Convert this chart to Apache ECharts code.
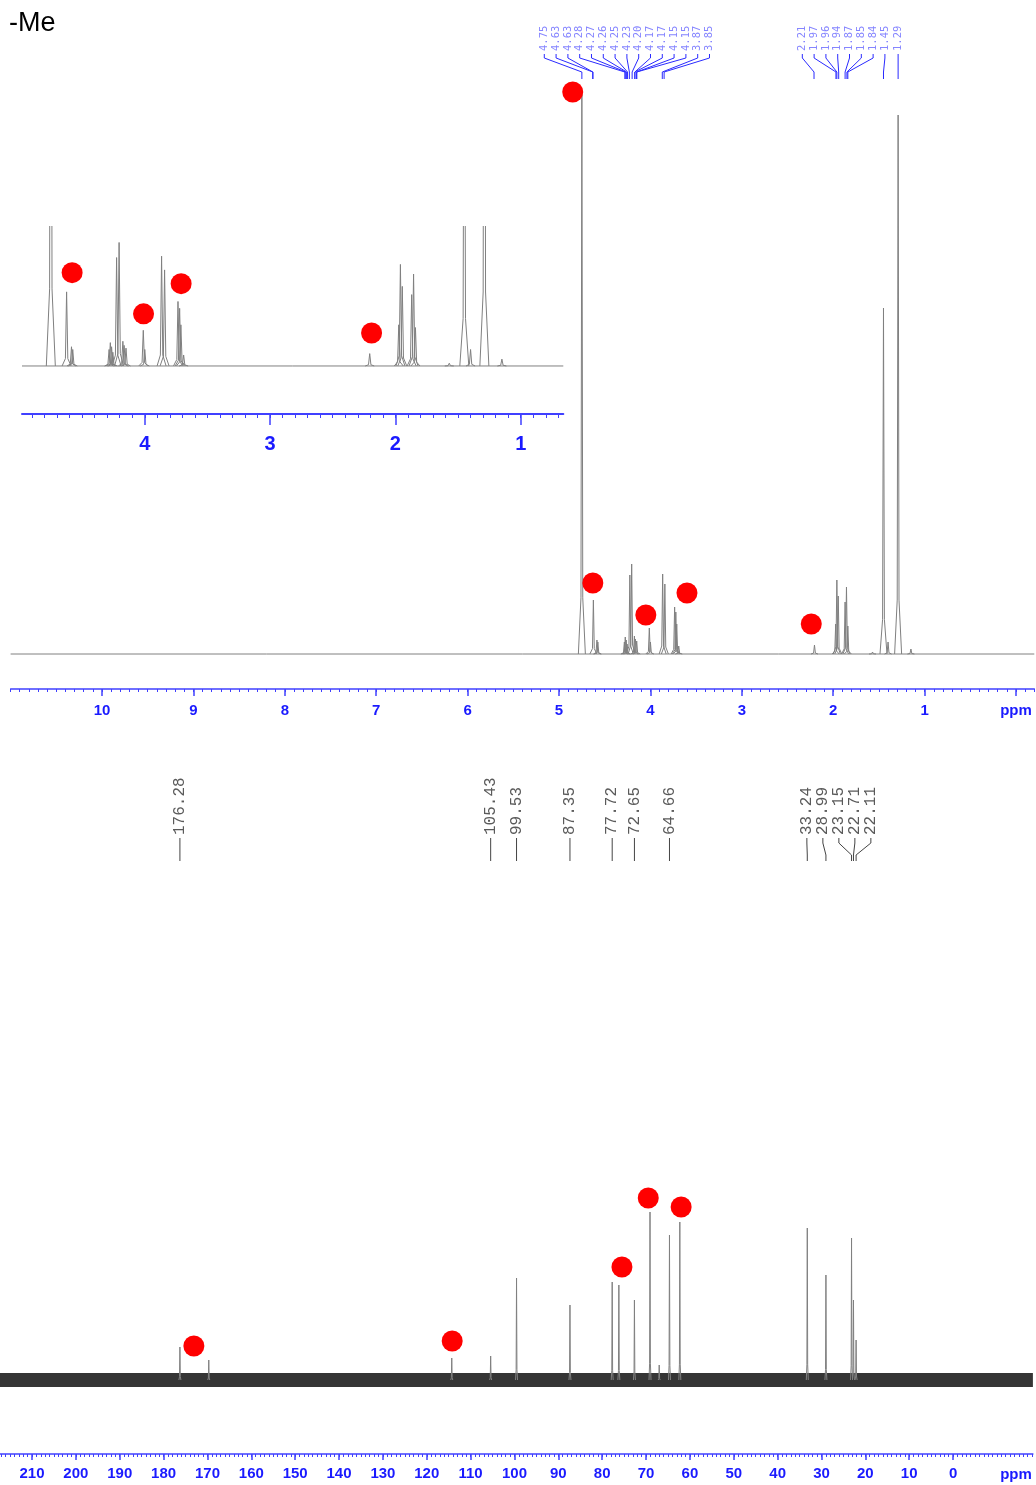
<!DOCTYPE html>
<html>
<head>
<meta charset="utf-8">
<script src="https://cdn.jsdelivr.net/npm/echarts@6/dist/echarts.min.js"></script>
<style>
  html, body { margin: 0; padding: 0; background: #fff; }
  #chart { width: 1036px; height: 1485px; }
</style>
</head>
<body>
<div id="chart"></div>
<script>
// ---- 1H spectrum: peak positions (ppm) and intensities ----
const hPeakPpm = [4.750, 4.624, 4.585, 4.575, 4.285, 4.275, 4.265, 4.255, 4.225, 4.205,
                  4.175, 4.165, 4.150, 4.012, 4.000, 3.866, 3.842, 3.735, 3.722, 3.712,
                  3.690, 2.205, 1.973, 1.960, 1.945, 1.870, 1.855, 1.840, 1.570, 1.450,
                  1.400, 1.290, 1.150];
const hPeakInt = [562, 54, 14, 12, 12, 17, 14, 10, 79, 90,
                  18, 15, 13, 26, 12, 80, 70, 47, 42, 30,
                  8, 9, 30, 74, 58, 52, 67, 28, 2, 346,
                  12, 539, 5];

// peak-pick labels of the 1H spectrum
const hLabelPpm = [4.75, 4.63, 4.63, 4.28, 4.27, 4.26, 4.25, 4.23, 4.20, 4.17, 4.17, 4.15,
                   4.15, 3.87, 3.85, 2.21, 1.97, 1.96, 1.94, 1.87, 1.85, 1.84, 1.45, 1.29];
const hLabelText = ['4.75', '4.63', '4.63', '4.28', '4.27', '4.26', '4.25', '4.23', '4.20',
                    '4.17', '4.17', '4.15', '4.15', '3.87', '3.85', '2.21', '1.97', '1.96',
                    '1.94', '1.87', '1.85', '1.84', '1.45', '1.29'];

// red markers on the 1H spectrum (full view and expansion)
const hMarkPpm = [4.85, 4.63, 4.05, 3.60, 2.24];
const hMarkInt = [562, 71, 39, 61, 30];
const insetMarkPpm = [4.58, 4.01, 3.71, 2.19];
const insetMarkInt = [68, 38, 60, 24];

// ---- 13C spectrum ----
const cPeakPpm = [176.28, 169.7, 114.3, 105.43, 99.53, 87.35, 77.72, 76.2, 72.65, 69.1,
                  67.0, 64.66, 62.3, 33.24, 28.99, 23.15, 22.71, 22.11];
const cPeakInt = [33, 20, 22, 24, 102, 75, 98, 95, 80, 168,
                  15, 145, 158, 152, 105, 142, 80, 40];
const cLabelPpm = [176.28, 105.43, 99.53, 87.35, 77.72, 72.65, 64.66, 33.24, 28.99, 23.15, 22.71, 22.11];
const cLabelText = ['176.28', '105.43', '99.53', '87.35', '77.72', '72.65', '64.66',
                    '33.24', '28.99', '23.15', '22.71', '22.11'];
const cMarkPpm = [173.1, 114.2, 75.5, 69.5, 62.0];
const cMarkInt = [34, 39, 113, 182, 173];

// ---- axis ticks ----
const hTickValues = [0, 1, 2, 3, 4, 5, 6, 7, 8, 9, 10];
const hTickLabels = [1, 2, 3, 4, 5, 6, 7, 8, 9, 10];
const insetTickValues = [1, 2, 3, 4];
const cTickValues = [0, 10, 20, 30, 40, 50, 60, 70, 80, 90, 100, 110, 120, 130, 140,
                     150, 160, 170, 180, 190, 200, 210];

function steps(from, to, step) {
  const out = [];
  const n = Math.round((to - from) / step);
  for (let i = 0; i <= n; i++) out.push(+(from + i * step).toFixed(3));
  return out;
}
const hMinor = steps(-0.2, 11.0, 0.1);
const insetMinor = steps(0.7, 4.9, 0.1);
const cMinor = steps(-18, 217, 1);

const AXIS_BLUE = '#4040ff';
const LABEL_BLUE = '#1a1aff';
const TRACE = '#808080';

const zip = (a, b) => a.map((v, i) => [v, b[i]]);

function peakRenderer(wb, ws, f) {
  return function (params, api) {
    const p = api.value(0), h = api.value(1);
    const base = api.coord([p, 0]);
    const top = api.coord([p, h]);
    const ys = base[1] + (top[1] - base[1]) * f;
    return {
      type: 'polyline',
      shape: { points: [[base[0] - wb, base[1]], [base[0] - ws, ys], [base[0], top[1]],
                        [base[0] + ws, ys], [base[0] + wb, base[1]]] },
      style: { stroke: TRACE, fill: null, lineWidth: 1 }
    };
  };
}

function majorAxis(grid, min, max, ticks, labels, tickLen, fontSize, margin, lineW) {
  return {
    type: 'value', gridIndex: grid, min: min, max: max, inverse: true, position: 'bottom',
    axisLine: { show: true, onZero: false, lineStyle: { color: AXIS_BLUE, width: lineW } },
    axisTick: { show: true, length: tickLen, customValues: ticks, lineStyle: { color: AXIS_BLUE, width: 1.5 } },
    axisLabel: { show: true, customValues: labels, margin: margin, color: LABEL_BLUE,
                 fontFamily: 'Liberation Sans, Arial, sans-serif', fontWeight: 'bold', fontSize: fontSize,
                 formatter: v => String(v) },
    splitLine: { show: false }, minorTick: { show: false }
  };
}
function minorAxis(grid, min, max, ticks, tickLen) {
  return {
    type: 'value', gridIndex: grid, min: min, max: max, inverse: true, position: 'bottom',
    axisLine: { show: false, onZero: false },
    axisTick: { show: true, length: tickLen, customValues: ticks, lineStyle: { color: AXIS_BLUE, width: 1 } },
    axisLabel: { show: false }, splitLine: { show: false }
  };
}

const chart = echarts.init(document.getElementById('chart'), null, { renderer: 'canvas' });

const dotStyle = { color: '#ff0000', opacity: 1 };

const option = {
  animation: false,
  backgroundColor: '#ffffff',
  grid: [
    { left: 10.6, top: 90, width: 1023.7, height: 599 },     // 1H full
    { left: 22, top: 226, width: 541.3, height: 188 },       // 1H expansion
    { left: 0, top: 1195, width: 1032.9, height: 259 }       // 13C
  ],
  xAxis: [
    majorAxis(0, -0.2, 11.0, hTickValues, hTickLabels, 7, 15, 14, 1.5),
    minorAxis(0, -0.2, 11.0, hMinor, 3),
    majorAxis(1, 0.66, 4.98, insetTickValues, insetTickValues, 11, 20, 20, 2),
    minorAxis(1, 0.66, 4.98, insetMinor, 4),
    majorAxis(2, -18.2, 217.3, cTickValues, cTickValues, 6, 15, 12, 1.5),
    minorAxis(2, -18.2, 217.3, cMinor, 3)
  ],
  yAxis: [
    { type: 'value', gridIndex: 0, min: -35, max: 564, show: false },
    { type: 'value', gridIndex: 1, min: -35, max: 102, show: false },
    { type: 'value', gridIndex: 2, min: -74, max: 185, show: false }
  ],
  series: [
    // 1H full spectrum
    { type: 'line', xAxisIndex: 0, yAxisIndex: 0, data: [[11.0, 0], [-0.2, 0]], symbol: 'none',
      lineStyle: { color: TRACE, width: 1 }, silent: true, z: 2 },
    { type: 'custom', xAxisIndex: 0, yAxisIndex: 0, data: zip(hPeakPpm, hPeakInt),
      encode: { x: 0, y: 1 }, renderItem: peakRenderer(3.5, 0.9, 0.1), clip: true, silent: true, z: 3 },
    { type: 'scatter', xAxisIndex: 0, yAxisIndex: 0, data: zip(hMarkPpm, hMarkInt), symbolSize: 21,
      itemStyle: dotStyle, silent: true, z: 5 },

    // 1H expansion
    { type: 'line', xAxisIndex: 2, yAxisIndex: 1, data: [[4.98, 0], [0.66, 0]], symbol: 'none',
      lineStyle: { color: TRACE, width: 1 }, silent: true, z: 2 },
    { type: 'custom', xAxisIndex: 2, yAxisIndex: 1, data: zip(hPeakPpm, hPeakInt),
      encode: { x: 0, y: 1 }, renderItem: peakRenderer(4.5, 1.2, 0.1), clip: true, silent: true, z: 3 },
    { type: 'scatter', xAxisIndex: 2, yAxisIndex: 1, data: zip(insetMarkPpm, insetMarkInt), symbolSize: 21,
      itemStyle: dotStyle, silent: true, z: 5 },

    // 13C spectrum: noise floor band, then peaks
    { type: 'line', xAxisIndex: 4, yAxisIndex: 2, data: [[217.3, 0], [-18.2, 0]], symbol: 'none',
      lineStyle: { color: 'rgba(25,25,25,0.88)', width: 14 }, silent: true, z: 2 },
    { type: 'custom', xAxisIndex: 4, yAxisIndex: 2, data: zip(cPeakPpm, cPeakInt),
      encode: { x: 0, y: 1 }, renderItem: peakRenderer(1.0, 0.4, 0.1), clip: true, silent: true, z: 3 },
    { type: 'scatter', xAxisIndex: 4, yAxisIndex: 2, data: zip(cMarkPpm, cMarkInt), symbolSize: 21,
      itemStyle: dotStyle, silent: true, z: 5 }
  ]
};
chart.setOption(option);

// Spread peak labels horizontally so they do not overlap; px must be ascending.
function layoutLabels(px, gap) {
  let clusters = px.map((x, i) => ({ idx: [i], sum: x }));
  const span = c => {
    const n = c.idx.length, m = c.sum / n;
    return [m - (n - 1) / 2 * gap, m + (n - 1) / 2 * gap];
  };
  let merged = true;
  while (merged) {
    merged = false;
    for (let i = 0; i < clusters.length - 1; i++) {
      const a = span(clusters[i]), b = span(clusters[i + 1]);
      if (a[1] + gap > b[0]) {
        clusters[i] = { idx: clusters[i].idx.concat(clusters[i + 1].idx), sum: clusters[i].sum + clusters[i + 1].sum };
        clusters.splice(i + 1, 1);
        merged = true;
        break;
      }
    }
  }
  const out = new Array(px.length);
  clusters.forEach(c => {
    const n = c.idx.length, m = c.sum / n;
    c.idx.forEach((id, k) => { out[id] = m + (k - (n - 1) / 2) * gap; });
  });
  return out;
}

function peakLabels(axisIndex, ppms, texts, gap, ys, font, textColor, lineColor) {
  const px = ppms.map(p => chart.convertToPixel({ xAxisIndex: axisIndex }, p));
  const lx = layoutLabels(px, gap);
  const els = [];
  px.forEach((x, i) => {
    els.push({
      type: 'polyline', silent: true,
      shape: { points: [[lx[i], ys[0]], [lx[i], ys[1]], [x, ys[2]], [x, ys[3]]] },
      style: { stroke: lineColor, fill: null, lineWidth: 1 }
    });
    els.push({
      type: 'text', silent: true, x: lx[i], y: ys[0] - 3, rotation: Math.PI / 2,
      style: { text: texts[i], font: font, fill: textColor, align: 'left', verticalAlign: 'middle' }
    });
  });
  return els;
}

const graphics = [
  { type: 'text', x: 9, y: 24, silent: true,
    style: { text: '-Me', font: '27px "Liberation Sans", Arial, sans-serif', fill: '#000', align: 'left', verticalAlign: 'middle' } },
  { type: 'text', x: 1016, y: 711, silent: true,
    style: { text: 'ppm', font: 'bold 15px "Liberation Sans", Arial, sans-serif', fill: LABEL_BLUE, align: 'center', verticalAlign: 'middle' } },
  { type: 'text', x: 1016, y: 1475, silent: true,
    style: { text: 'ppm', font: 'bold 15px "Liberation Sans", Arial, sans-serif', fill: LABEL_BLUE, align: 'center', verticalAlign: 'middle' } }
].concat(
  peakLabels(0, hLabelPpm, hLabelText, 11.8, [54, 58, 72, 79],
             '10.5px "DejaVu Sans Mono", monospace', '#8585ff', '#2a2aff'),
  peakLabels(4, cLabelPpm, cLabelText, 16, [838, 843, 855, 861],
             '16px "Liberation Mono", monospace', '#5a5a5a', '#444444')
);

chart.setOption({ graphic: { elements: graphics } });
</script>
</body>
</html>
